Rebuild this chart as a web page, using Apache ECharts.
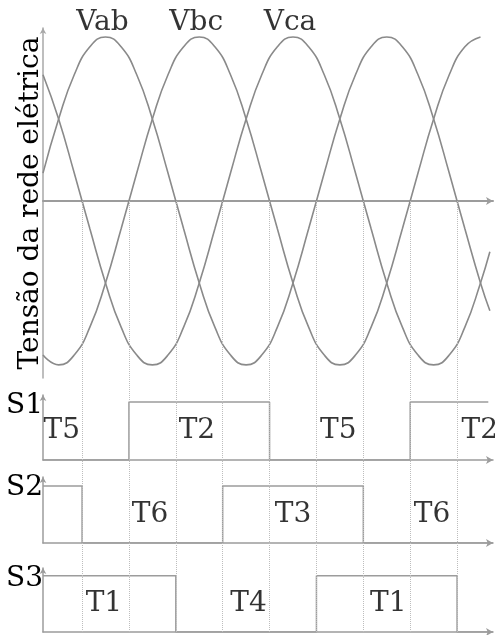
<!DOCTYPE html>
<html>
<head>
<meta charset="utf-8">
<script src="https://cdn.jsdelivr.net/npm/echarts@6/dist/echarts.min.js"></script>
<style>
  html, body { margin: 0; padding: 0; background: #fff; }
  #chart { width: 495px; height: 635px; }
</style>
</head>
<body>
<div id="chart"></div>
<script>
// Electrical angle (degrees) of every sample of the line voltages
const angles = [-80, -60, -40, -20, 0, 20, 40, 60, 80, 100, 120, 140, 160, 180, 200,
                220, 240, 260, 280, 300, 320, 340, 360, 380, 400, 420, 440, 460, 480, 492];
// Normalised line-to-line voltages (per unit of the peak)
const vab = [0.17, 0.50, 0.77, 0.94, 1.00, 0.94, 0.77, 0.50, 0.17, -0.17, -0.50, -0.77, -0.94, -1.00, -0.94,
             -0.77, -0.50, -0.17, 0.17, 0.50, 0.77, 0.94, 1.00, 0.94, 0.77, 0.50, 0.17, -0.17, -0.50, -0.67];
const vbc = [-0.94, -1.00, -0.94, -0.77, -0.50, -0.17, 0.17, 0.50, 0.77, 0.94, 1.00, 0.94, 0.77, 0.50, 0.17,
             -0.17, -0.50, -0.77, -0.94, -1.00, -0.94, -0.77, -0.50, -0.17, 0.17, 0.50, 0.77, 0.94, 1.00, null];
const vca = [0.77, 0.50, 0.17, -0.17, -0.50, -0.77, -0.94, -1.00, -0.94, -0.77, -0.50, -0.17, 0.17, 0.50, 0.77,
             0.94, 1.00, 0.94, 0.77, 0.50, 0.17, -0.17, -0.50, -0.77, -0.94, -1.00, -0.94, -0.77, -0.50, -0.31];
const phaseNames = ['Vab', 'Vbc', 'Vca'];
const peakAngles = [0, 120, 240];

// Switching instants (degrees)
const switchAngles = [-30, 30, 90, 150, 210, 270, 330, 390, 450];

// Gate signals: [angle, level] held until the next point
const s1 = [[-80, 0], [30, 1], [210, 0], [390, 1], [490, 1]];
const s2 = [[-80, 1], [-30, 0], [150, 1], [330, 0], [496, 0]];
const s3 = [[-80, 1], [90, 0], [270, 1], [450, 0], [496, 0]];

// Conducting thyristor in each interval
const s1Labels = ['T5', 'T2', 'T5', 'T2'];
const s1LabelAngles = [-56, 117, 298, 479];
const s2Labels = ['T6', 'T3', 'T6'];
const s2LabelAngles = [57, 240, 418];
const s3Labels = ['T1', 'T4', 'T1'];
const s3LabelAngles = [-2, 183, 362];

const rowNames = ['S1', 'S2', 'S3'];

const FONT = "'DejaVu Serif', serif";
const ANG_MIN = -80, ANG_MAX = 496;
const lineColor = '#8a8a8a';
const axisColor = '#9c9c9c';

const chart = echarts.init(document.getElementById('chart'), null, { renderer: 'canvas' });

function angleAxis(gridIndex, visible, width) {
  return {
    type: 'value', gridIndex: gridIndex, min: ANG_MIN, max: ANG_MAX,
    show: visible,
    axisLine: { show: visible, onZero: true, symbol: ['none', 'arrow'], symbolSize: [6, 7],
                lineStyle: { color: axisColor, width: width } },
    axisTick: { show: false }, axisLabel: { show: false }, splitLine: { show: false }
  };
}

function rowAxis(gridIndex, max, name) {
  return {
    type: 'value', gridIndex: gridIndex, min: 0, max: max,
    name: name, nameLocation: 'end', nameGap: 3,
    nameTextStyle: { fontFamily: FONT, fontSize: 28, color: '#000', align: 'right', verticalAlign: 'top' },
    axisLine: { show: true, onZero: false, symbol: ['none', 'arrow'], symbolSize: [5, 6],
                lineStyle: { color: axisColor, width: 1.5 } },
    axisTick: { show: false }, axisLabel: { show: false }, splitLine: { show: false }
  };
}

function toPairs(values) {
  return angles.map((a, i) => [a, values[i] === null ? '-' : values[i]]);
}

function sineSeries(name, values) {
  return {
    name: name, type: 'line', xAxisIndex: 0, yAxisIndex: 0,
    data: toPairs(values), smooth: true, showSymbol: false, connectNulls: false,
    lineStyle: { color: lineColor, width: 1.6 }, z: 3
  };
}

function gateSeries(idx, data) {
  return {
    type: 'line', xAxisIndex: idx, yAxisIndex: idx, step: 'end',
    data: data, showSymbol: false,
    lineStyle: { color: axisColor, width: 1.5 }, z: 3
  };
}

function labelSeries(idx, labels, at, level) {
  return {
    type: 'scatter', xAxisIndex: idx, yAxisIndex: idx, symbolSize: 0,
    data: labels.map((t, i) => ({ name: t, value: [at[i], level] })),
    label: { show: true, position: 'inside', formatter: '{b}',
             fontFamily: FONT, fontSize: 28, color: '#000' },
    z: 5
  };
}

const option = {
  animation: false,
  backgroundColor: '#ffffff',
  grid: [
    { left: 43, right: 2, top: 28, height: 350 },   // line voltages
    { left: 43, right: 2, top: 395, height: 65 },   // S1
    { left: 43, right: 2, top: 477, height: 66 },   // S2
    { left: 43, right: 2, top: 568, height: 64 },   // S3
    { left: 43, right: 2, top: 201, height: 431 }   // switching-instant guides
  ],
  xAxis: [
    angleAxis(0, true, 2),
    angleAxis(1, true, 1.5),
    angleAxis(2, true, 1.5),
    angleAxis(3, true, 1.5),
    angleAxis(4, false, 1)
  ],
  yAxis: [
    {
      type: 'value', gridIndex: 0, min: -1.08, max: 1.055,
      name: 'Tensão da rede elétrica', nameLocation: 'middle', nameRotate: 90, nameGap: -2,
      nameTextStyle: { fontFamily: FONT, fontSize: 28, color: '#000' },
      axisLine: { show: true, onZero: false, symbol: ['none', 'arrow'], symbolSize: [5, 6],
                  lineStyle: { color: '#a8a8a8', width: 1.5 } },
      axisTick: { show: false }, axisLabel: { show: false }, splitLine: { show: false }
    },
    rowAxis(1, 1.12, rowNames[0]),
    rowAxis(2, 1.16, rowNames[1]),
    rowAxis(3, 1.14, rowNames[2]),
    { type: 'value', gridIndex: 4, min: 0, max: 1, show: false }
  ],
  series: [
    {
      type: 'line', xAxisIndex: 4, yAxisIndex: 4, data: [[ANG_MIN, 0]],
      showSymbol: false, lineStyle: { opacity: 0 }, z: 1,
      markLine: {
        silent: true, symbol: ['none', 'none'], label: { show: false },
        lineStyle: { type: 'dotted', color: '#bdbdbd', width: 1 },
        data: switchAngles.map(a => ({ xAxis: a }))
      }
    },
    sineSeries(phaseNames[0], vab),
    sineSeries(phaseNames[1], vbc),
    sineSeries(phaseNames[2], vca),
    {
      type: 'scatter', xAxisIndex: 0, yAxisIndex: 0, symbolSize: 0, clip: false,
      data: peakAngles.map((a, i) => ({ name: phaseNames[i], value: [a, 1] })),
      label: { show: true, position: 'top', distance: 0, offset: [-3, 0], formatter: '{b}',
               fontFamily: FONT, fontSize: 28, color: '#000' },
      z: 5
    },
    gateSeries(1, s1),
    gateSeries(2, s2),
    gateSeries(3, s3),
    labelSeries(1, s1Labels, s1LabelAngles, 0.5),
    labelSeries(2, s2Labels, s2LabelAngles, 0.5),
    labelSeries(3, s3Labels, s3LabelAngles, 0.5)
  ]
};

chart.setOption(option);
</script>
</body>
</html>
